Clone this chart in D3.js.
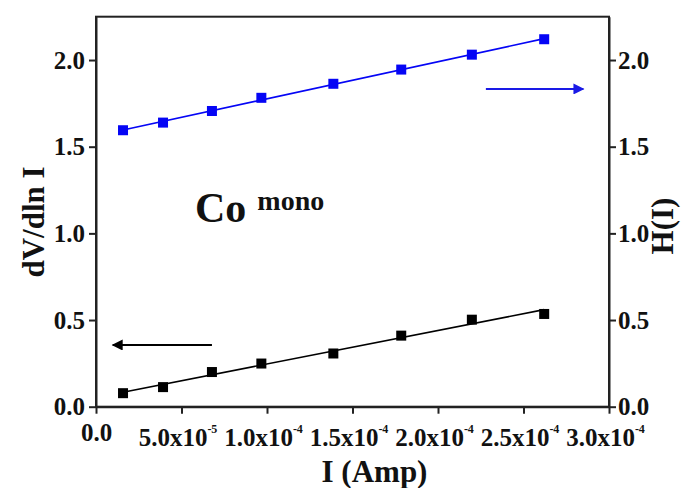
<!DOCTYPE html>
<html><head><meta charset="utf-8">
<script src="https://cdn.jsdelivr.net/npm/d3@7"></script>
<style>
html,body{margin:0;padding:0;background:#fff;}
svg{display:block;}
text{font-family:"Liberation Serif","Times New Roman",serif;font-weight:bold;fill:#111;}
</style></head>
<body>
<svg id="chart" width="681" height="488"></svg>
<script>
// ---- data ----
const current = [1.58e-5, 3.92e-5, 6.78e-5, 9.67e-5, 1.388e-4, 1.785e-4, 2.198e-4, 2.621e-4];
const dVdlnI  = [0.078, 0.113, 0.200, 0.249, 0.307, 0.410, 0.502, 0.535];
const HofI    = [1.595, 1.639, 1.706, 1.782, 1.863, 1.945, 2.031, 2.120];
const xTicks    = [0, 5e-5, 1e-4, 1.5e-4, 2e-4, 2.5e-4, 3e-4];
const xTickBase = ["0.0", "5.0x10", "1.0x10", "1.5x10", "2.0x10", "2.5x10", "3.0x10"];
const xTickExp  = ["", "-5", "-4", "-4", "-4", "-4", "-4"];
const yTicks    = [0, 0.5, 1.0, 1.5, 2.0];
const yTickLabels = ["0.0", "0.5", "1.0", "1.5", "2.0"];
const xDomain = [0, 3e-4];
const yDomain = [0, 2.25];
const leftArrow  = {x: [0.98e-5, 6.78e-5], y: 0.356};
const rightArrow = {x: [2.28e-4, 2.85e-4], y: 1.833};
const annotation = {x: 5.79e-5, y: 1.067, main: "Co", sup: "mono"};

// ---- layout ----
const L = 96, R = 609, T = 16.7, B = 406.7;
const svg = d3.select("#chart");
const x = d3.scaleLinear().domain(xDomain).range([L, R]);
const y = d3.scaleLinear().domain(yDomain).range([B, T]);
const axisColor = "#222";
const tickFont = 25;

// frame
svg.append("rect").attr("x", L).attr("y", T).attr("width", R - L).attr("height", B - T)
  .attr("fill", "none").attr("stroke", axisColor).attr("stroke-width", 2);

// axes
const gx = svg.append("g").attr("transform", `translate(0,${B})`)
  .call(d3.axisBottom(x).tickValues(xTicks).tickFormat("").tickSize(7).tickSizeOuter(0));
const gyl = svg.append("g").attr("transform", `translate(${L},0)`)
  .call(d3.axisLeft(y).tickValues(yTicks).tickFormat((d, i) => yTickLabels[i]).tickSize(7).tickSizeOuter(0).tickPadding(4));
const gyr = svg.append("g").attr("transform", `translate(${R},0)`)
  .call(d3.axisRight(y).tickValues(yTicks).tickFormat((d, i) => yTickLabels[i]).tickSize(7).tickSizeOuter(0).tickPadding(2));
[gx, gyl, gyr].forEach(g => {
  g.attr("font-size", tickFont).attr("font-family", null);
  g.select(".domain").attr("stroke", axisColor).attr("stroke-width", 2);
  g.selectAll(".tick line").attr("stroke", axisColor).attr("stroke-width", 2);
  g.selectAll(".tick text").style("font-size", tickFont + "px").attr("fill", "#111");
});

// x tick labels with superscripts
gx.selectAll(".tick").each(function(d, i) {
  const t = d3.select(this).append("text")
    .attr("text-anchor", "middle")
    .attr("x", i === 0 ? 0 : -4)
    .attr("y", i === 0 ? 34 : 39)
    .style("font-size", tickFont + "px")
    .attr("fill", "#111");
  t.append("tspan").text(xTickBase[i]);
  if (xTickExp[i]) t.append("tspan").style("font-size", "12px").attr("dy", -13).text(xTickExp[i]);
});

// fit lines (least squares through the data)
function fit(xs, ys) {
  const n = xs.length, mx = d3.mean(xs), my = d3.mean(ys);
  let sxy = 0, sxx = 0;
  for (let i = 0; i < n; i++) { sxy += (xs[i] - mx) * (ys[i] - my); sxx += (xs[i] - mx) ** 2; }
  const b = sxy / sxx, a = my - b * mx;
  const x0 = d3.min(xs), x1 = d3.max(xs);
  return [[x0, a + b * x0], [x1, a + b * x1]];
}
const line = d3.line().x(d => x(d[0])).y(d => y(d[1]));
const series = [
  {vals: dVdlnI, color: "#000"},
  {vals: HofI, color: "#0505f5"}
];
series.forEach(s => {
  svg.append("path").attr("d", line(fit(current, s.vals)))
    .attr("fill", "none").attr("stroke", s.color).attr("stroke-width", 1.6);
  const sz = 10;
  svg.append("g").selectAll("rect").data(current).join("rect")
    .attr("x", (d) => x(d) - sz / 2)
    .attr("y", (d, i) => y(s.vals[i]) - sz / 2)
    .attr("width", sz).attr("height", sz)
    .attr("fill", s.color);
});

// arrows
const defs = svg.append("defs");
function arrowMarker(id, color) {
  defs.append("marker").attr("id", id).attr("viewBox", "0 0 10 10")
    .attr("refX", 9).attr("refY", 5).attr("markerWidth", 6.5).attr("markerHeight", 5)
    .attr("markerUnits", "strokeWidth").attr("orient", "auto")
    .append("path").attr("d", "M0,0 L10,5 L0,10 Z").attr("fill", color);
}
arrowMarker("ah-black", "#000");
arrowMarker("ah-blue", "#1a1ae6");
svg.append("line")
  .attr("x1", x(leftArrow.x[1])).attr("x2", x(leftArrow.x[0]))
  .attr("y1", y(leftArrow.y)).attr("y2", y(leftArrow.y))
  .attr("stroke", "#000").attr("stroke-width", 2.2).attr("marker-end", "url(#ah-black)");
svg.append("line")
  .attr("x1", x(rightArrow.x[0])).attr("x2", x(rightArrow.x[1]))
  .attr("y1", y(rightArrow.y)).attr("y2", y(rightArrow.y))
  .attr("stroke", "#1a1ae6").attr("stroke-width", 2.2).attr("marker-end", "url(#ah-blue)");

// annotation
const ann = svg.append("text").attr("x", x(annotation.x)).attr("y", y(annotation.y))
  .style("font-size", "42px");
ann.append("tspan").text(annotation.main);
ann.append("tspan").attr("dx", 11).attr("dy", -12).style("font-size", "28px").text(annotation.sup);

// axis titles
svg.append("text").attr("x", (L + R) / 2 + 22).attr("y", 482).attr("text-anchor", "middle")
  .style("font-size", "31px").text("I (Amp)");
svg.append("text").attr("transform", `translate(44,${222}) rotate(-90)`).attr("text-anchor", "middle")
  .style("font-size", "31px").text("dV/dln I");
svg.append("text").attr("transform", `translate(673,${226}) rotate(-90)`).attr("text-anchor", "middle")
  .style("font-size", "31px").text("H(I)");
</script>
</body></html>
